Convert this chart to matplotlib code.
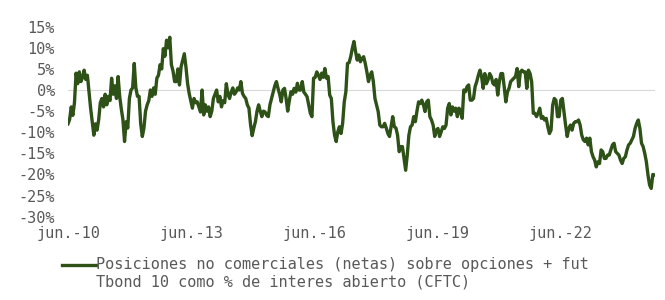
import numpy as np
import pandas as pd
import matplotlib
matplotlib.use('Agg')
import matplotlib.pyplot as plt

# net non-commercial positions (% of open interest), ~biweekly
valores = [
    -8, -7, -4, -6, -3, 4, 1.5, 4.3, 2, 3, 4.7, 2.5, 3.5, -0.5, -4.3, -7.5, -10.7, -8, -9.5, -7,
    -3, -2, -4, -1, -3.5, -1.5, -2.5, 2.8, -1, 1, -2, 3.2, -1.5, -4.5, -7, -12.2, -7.5, -9, -2, 0,
    0.5, 6.3, 0.5, -1.5, -1.5, -8, -11, -9, -5, -3.5, -2.5, 0, -1.5, 0.5, -1, 2.8, 3.5, 6, 5, 9.8,
    8, 11.8, 10, 12.5, 6, 4.5, 2, 2, 5, 1.2, 5.5, 7, 8.6, 5.5, 1.6, -0.8, -2.5, -4.3, -2, -3,
    -2.8, -4, -5.2, 0,
    -5.9, -3.5, -5, -4, -6.3, -5, -2, -1, 0, -2.8, -1.5, -4, -2.5, -3, 1.5, -1, -2, -0.5, 0.5, -1,
    -0.5, 0.5, 0, 2, -0.8, -1.5, -2, -3.5, -4.3, -8.2, -10.8, -9, -7.5, -5, -3.5, -5, -6.3, -5, -5.2, -6,
    -6.3, -3.5, -2, -0.4, 1, 2, 0.4, -1, -2.8, 0, 0.4, -2, -5, -2.5, -0.4, -1, 0.4, -0.5, 1.6, 0,
    0, 2, -0.5, -1, -1.6, -3.6, -5.5, -6.3, 2.8, 3, 4.3, 3.5, 2.5, 4, 3, 5.1, 2.8, 3.2, -1.2, -2,
    -7.5, -10.7, -12.2, -9.9, -8.7, -10.3, -7.9, -2.8, -0.4, 6.3, 6.5, 7.9, 9.9, 11.5, 9.1, 7.1, 8.3, 6.7, 7.5, 7.9,
    6.3, 4.3, 2, 3.5, 4.3, 2, -2, -3.6, -5.1, -8.3, -8.7, -8.7, -7.9, -9, -10.3, -11, -8.7, -6.3, -8.7, -9,
    -10.7, -14.6, -13.4, -13.4, -16.2, -19, -15.4, -10.7, -8.7, -8.3, -6.3, -7.5, -5, -2.8, -3.2, -2.4, -3.5, -5.1, -2.8, -2.4,
    -6.3,
    -7.1, -8.3, -11, -9.5, -9.1, -11, -9.9, -8.7, -9.1, -8.3, -4.3, -3.2, -5.9, -4, -5, -4.3, -6.3, -4.3, -5.1, -6.7,
    0, -0.4, 0.8, 1.2, -2.4, -2.4, -2, 0.8, 2, 3.5, 4.7, 3.2, 0.4, 3.9, 1.5, 2.4, 3.9, 3.2, 1.6, 1.2,
    2.5, -1.2, 2, 3.9, 3.9, 0.8, -2.8, -0.5, 0.4, 2, 2.4, 2.8, 3.2, 5.1, 0.8, 4.3, 4.7, 4.3, 4.3, 0.4,
    4.7, 3.9, 2, -5.5, -5.5, -6.3, -5.5, -4.3, -6.7, -6.3, -7.1, -6.7, -8.7, -10.3, -9.5, -3.6, -2, -2.4, -6.3, -6.3,
    -2.4, -2, -5.1, -8.3, -11, -9.1, -8.3, -9.5, -7.9, -7.5, -7.5, -7.1, -8.3, -10.7, -11.8, -12.2, -11.4, -13, -11.4, -14.6,
    -15.8, -16.6, -18.2, -17, -17.4, -14.2, -14.6, -16.2, -16.2, -15.4, -15.4, -14.2, -13, -12.6, -14.6, -15, -15.4, -16.6, -17.4, -16.2,
    -15.8, -14.2, -13, -12.6, -11.8, -11, -9.1, -7.9, -7.1, -9.1, -12.6, -13.4, -15, -17, -20.1, -22.5, -23.3, -20, -20.1,
]
fecha_ini = '2010-06-01'
fecha_fin = '2024-09-13'
ticks_fechas = ['2010-06-01', '2013-06-01', '2016-06-01', '2019-06-01', '2022-06-01']
ticks_labels = ['jun.-10', 'jun.-13', 'jun.-16', 'jun.-19', 'jun.-22']
y_ticks = [15, 10, 5, 0, -5, -10, -15, -20, -25, -30]
etiqueta = 'Posiciones no comerciales (netas) sobre opciones + fut\nTbond 10 como % de interes abierto (CFTC)'

fechas = pd.date_range(fecha_ini, fecha_fin, periods=len(valores))

gris = '#595959'
verde = '#2e5117'
plt.rcParams['font.family'] = ['DejaVu Sans Mono']

fig = plt.figure(figsize=(6.65, 3.0), dpi=100)
ax = fig.add_axes([68/665, 1 - 216.7/300, (655-68)/665, (216.7-26.7)/300])

ax.axhline(0, color='#d9d9d9', lw=0.8, zorder=1)
ax.plot(fechas, valores, color=verde, lw=2.4, solid_joinstyle='round', zorder=3, label=etiqueta)

ax.set_xlim(pd.Timestamp(fecha_ini), fechas[-1] + pd.Timedelta(days=5))
ax.set_ylim(-30, 15)
ax.set_yticks(y_ticks)
ax.set_yticklabels([f'{v}%' for v in y_ticks])
ax.set_xticks(pd.to_datetime(ticks_fechas))
ax.set_xticklabels(ticks_labels)
ax.tick_params(axis='both', length=0, labelsize=11, labelcolor=gris)
ax.tick_params(axis='y', pad=9.4)
ax.tick_params(axis='x', pad=6.5)
for s in ax.spines.values():
    s.set_visible(False)

leg = fig.legend(loc='upper left', bbox_to_anchor=(62/665, 1 - 257/300), frameon=False,
                 fontsize=11, labelcolor=gris, handlelength=2.2, handletextpad=0.05,
                 borderpad=0, borderaxespad=0)
# put the legend line next to the first text row, as in the original
ln = leg.get_lines()[0]
ln.set_ydata(np.asarray(ln.get_ydata()) + 6.1)

fig.savefig('out.png', dpi=100)
